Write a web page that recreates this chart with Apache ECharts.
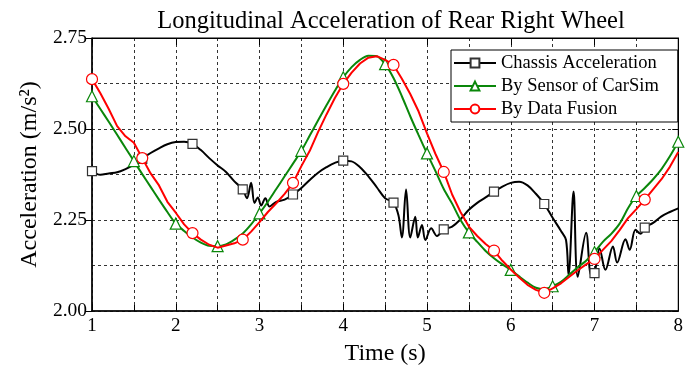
<!DOCTYPE html>
<html>
<head>
<meta charset="utf-8">
<script src="https://cdn.jsdelivr.net/npm/echarts@6/dist/echarts.min.js"></script>
<style>
  html, body { margin: 0; padding: 0; background: #fff; }
  #chart { width: 686px; height: 374px; }
</style>
</head>
<body>
<div id="chart"></div>
<script>
// Time base for the two sampled signals (s), 0.1 s steps
const timeSteps = [
  1.0,1.1,1.2,1.3,1.4,1.5,1.6,1.7,1.8,1.9,
  2.0,2.1,2.2,2.3,2.4,2.5,2.6,2.7,2.8,2.9,
  3.0,3.1,3.2,3.3,3.4,3.5,3.6,3.7,3.8,3.9,
  4.0,4.1,4.2,4.3,4.4,4.5,4.6,4.7,4.8,4.9,
  5.0,5.1,5.2,5.3,5.4,5.5,5.6,5.7,5.8,5.9,
  6.0,6.1,6.2,6.3,6.4,6.5,6.6,6.7,6.8,6.9,
  7.0,7.1,7.2,7.3,7.4,7.5,7.6,7.7,7.8,7.9,
  8.0
];

// By Sensor of CarSim (m/s^2)
const sensorValues = [
  2.590,2.555,2.520,2.484,2.448,2.412,2.376,2.341,2.306,2.272,
  2.240,2.220,2.202,2.188,2.179,2.178,2.183,2.196,2.213,2.238,
  2.268,2.300,2.335,2.370,2.405,2.440,2.482,2.524,2.565,2.605,
  2.642,2.670,2.690,2.701,2.700,2.678,2.640,2.590,2.535,2.483,
  2.433,2.385,2.335,2.295,2.250,2.216,2.190,2.165,2.145,2.128,
  2.113,2.095,2.078,2.064,2.060,2.068,2.080,2.100,2.120,2.138,
  2.162,2.190,2.212,2.240,2.282,2.316,2.338,2.362,2.390,2.425,
  2.465
];

// By Data Fusion (m/s^2)
const fusionValues = [
  2.637,2.598,2.555,2.508,2.480,2.462,2.420,2.378,2.345,2.300,
  2.270,2.238,2.214,2.196,2.182,2.174,2.180,2.186,2.196,2.218,
  2.244,2.272,2.296,2.322,2.352,2.398,2.440,2.492,2.540,2.585,
  2.624,2.655,2.680,2.696,2.700,2.690,2.676,2.638,2.596,2.548,
  2.488,2.432,2.382,2.320,2.272,2.232,2.206,2.184,2.166,2.138,
  2.114,2.092,2.072,2.058,2.050,2.062,2.076,2.094,2.112,2.128,
  2.143,2.168,2.192,2.222,2.255,2.280,2.306,2.334,2.362,2.396,
  2.437
];

// Chassis Acceleration: time (s) and value (m/s^2)
const chassisTime = [
  1.0,1.1,1.2,1.3,1.4,1.5,1.6,1.7,1.8,1.9,
  2.0,2.1,2.2,2.3,2.4,2.5,2.6,2.7,2.8,2.85,
  2.9,2.94,2.98,3.02,3.07,3.12,3.2,3.3,3.4,3.5,
  3.6,3.7,3.8,3.9,4.0,4.1,4.2,4.3,4.4,4.5,
  4.6,4.66,4.70,4.75,4.80,4.86,4.89,4.94,4.98,5.05,
  5.12,5.2,5.3,5.4,5.5,5.6,5.7,5.8,5.9,6.0,
  6.1,6.2,6.3,6.4,6.5,6.6,6.66,6.69,6.75,6.80,
  6.90,6.96,7.0,7.06,7.13,7.22,7.27,7.37,7.42,7.49,
  7.55,7.6,7.7,7.8,7.9,8.0
];
const chassisValues = [
  2.384,2.374,2.378,2.381,2.390,2.402,2.418,2.434,2.447,2.458,
  2.464,2.465,2.459,2.442,2.420,2.400,2.382,2.356,2.334,2.310,
  2.352,2.297,2.312,2.290,2.310,2.287,2.300,2.306,2.320,2.338,
  2.360,2.380,2.395,2.407,2.413,2.411,2.395,2.370,2.340,2.310,
  2.298,2.262,2.202,2.334,2.202,2.259,2.202,2.236,2.195,2.227,
  2.206,2.224,2.232,2.252,2.278,2.297,2.312,2.328,2.342,2.352,
  2.355,2.345,2.322,2.294,2.256,2.220,2.195,2.099,2.328,2.094,
  2.215,2.099,2.104,2.172,2.113,2.177,2.133,2.197,2.168,2.223,
  2.212,2.229,2.242,2.260,2.272,2.282
];

// Times at which each curve carries a marker
const chassisMarkTimes = [1.0,1.6,2.2,2.8,3.4,4.0,4.6,5.2,5.8,6.4,7.0,7.6];
const sensorMarkTimes = [1.0,1.5,2.0,2.5,3.0,3.5,4.0,4.5,5.0,5.5,6.0,6.5,7.0,7.5,8.0];
const fusionMarkTimes = [1.0,1.6,2.2,2.8,3.4,4.0,4.6,5.2,5.8,6.4,7.0,7.6];

const xTicks = [1,2,3,4,5,6,7,8];
const yTicks = [2.00,2.25,2.50,2.75];

const seriesNames = ['Chassis Acceleration', 'By Sensor of CarSim', 'By Data Fusion'];

const FONT = 'Liberation Serif';

function withMarkers(times, values, marks) {
  return times.map((t, i) => {
    const hit = marks.some(m => Math.abs(m - t) < 1e-6);
    return hit ? { value: [t, values[i]] } : { value: [t, values[i]], symbol: 'none' };
  });
}

const chart = echarts.init(document.getElementById('chart'), null, { renderer: 'canvas' });

const gridLeft = 92, gridRight = 5, gridTop = 38, gridBottom = 63;
const dashed = { show: true, lineStyle: { color: '#333', width: 1, type: [3, 3] } };

chart.setOption({
  backgroundColor: '#fff',
  animation: false,
  title: {
    text: 'Longitudinal Acceleration of Rear Right Wheel',
    left: 386,
    textAlign: 'center',
    top: 4,
    textStyle: { fontFamily: FONT, fontSize: 24.5, fontWeight: 'normal', color: '#000' }
  },
  legend: {
    orient: 'vertical',
    left: 451,
    top: 50,
    data: seriesNames,
    itemWidth: 42,
    itemHeight: 11,
    itemGap: 3,
    padding: [3, 19, 3, 2],
    borderColor: '#000',
    borderWidth: 1,
    borderRadius: 0,
    backgroundColor: '#fff',
    textStyle: { fontFamily: FONT, fontSize: 18.5, color: '#000', lineHeight: 20 }
  },
  grid: {
    left: gridLeft, right: gridRight, top: gridTop, bottom: gridBottom,
    show: true, borderColor: '#000', borderWidth: 1
  },
  xAxis: [
    {
      type: 'value', position: 'bottom', min: xTicks[0], max: xTicks[xTicks.length - 1], interval: 1,
      name: 'Time (s)', nameLocation: 'middle', nameGap: 31,
      nameTextStyle: { fontFamily: FONT, fontSize: 24, color: '#000' },
      axisLine: { show: true, onZero: false, lineStyle: { color: '#000', width: 1.5 } },
      axisTick: { show: true, inside: true, length: 7, lineStyle: { color: '#000' } },
      minorTick: { show: true, splitNumber: 2, length: 6, lineStyle: { color: '#000' } },
      axisLabel: { fontFamily: FONT, fontSize: 19, color: '#000', margin: 6 },
      splitLine: dashed,
      minorSplitLine: dashed
    },
    {
      type: 'value', position: 'top', min: xTicks[0], max: xTicks[xTicks.length - 1], interval: 1,
      axisLine: { show: true, onZero: false, lineStyle: { color: '#000', width: 1 } },
      axisTick: { show: true, inside: true, length: 7, lineStyle: { color: '#000' } },
      axisLabel: { show: false },
      splitLine: { show: false }
    }
  ],
  yAxis: [
    {
      type: 'value', position: 'left', min: yTicks[0], max: yTicks[yTicks.length - 1], interval: 0.25,
      name: 'Acceleration (m/s²)', nameLocation: 'middle', nameGap: 50,
      nameTextStyle: { fontFamily: FONT, fontSize: 24, color: '#000' },
      axisLine: { show: true, onZero: false, lineStyle: { color: '#000', width: 1.5 } },
      axisTick: { show: true, inside: false, length: 6, lineStyle: { color: '#000' } },
      minorTick: { show: false, splitNumber: 2 },
      axisLabel: { fontFamily: FONT, fontSize: 19.5, color: '#000', margin: 5,
                   formatter: v => v.toFixed(2) },
      splitLine: dashed,
      minorSplitLine: dashed
    },
    {
      type: 'value', position: 'right', min: yTicks[0], max: yTicks[yTicks.length - 1], interval: 0.25,
      axisLine: { show: true, onZero: false, lineStyle: { color: '#000', width: 1 } },
      axisTick: { show: true, inside: true, length: 6, lineStyle: { color: '#000' } },
      axisLabel: { show: false },
      splitLine: { show: false }
    }
  ],
  series: [
    {
      name: seriesNames[0], type: 'line', xAxisIndex: 0, yAxisIndex: 0,
      data: withMarkers(chassisTime, chassisValues, chassisMarkTimes),
      smooth: 0.35, showAllSymbol: true,
      symbol: 'rect', symbolSize: 9,
      lineStyle: { color: '#000', width: 2 },
      itemStyle: { color: '#fff', borderColor: '#333', borderWidth: 1.2 },
      z: 2
    },
    {
      name: seriesNames[1], type: 'line', xAxisIndex: 0, yAxisIndex: 0,
      data: withMarkers(timeSteps, sensorValues, sensorMarkTimes),
      smooth: 0.3, showAllSymbol: true,
      symbol: 'triangle', symbolSize: 11,
      lineStyle: { color: '#0a870a', width: 2 },
      itemStyle: { color: '#fff', borderColor: '#0a870a', borderWidth: 1.2 },
      z: 3
    },
    {
      name: seriesNames[2], type: 'line', xAxisIndex: 0, yAxisIndex: 0,
      data: withMarkers(timeSteps, fusionValues, fusionMarkTimes),
      smooth: false, showAllSymbol: true,
      symbol: 'circle', symbolSize: 11,
      lineStyle: { color: '#ff0000', width: 2 },
      itemStyle: { color: '#fff', borderColor: '#ff0000', borderWidth: 1.2 },
      z: 4
    }
  ]
});
</script>
</body>
</html>
